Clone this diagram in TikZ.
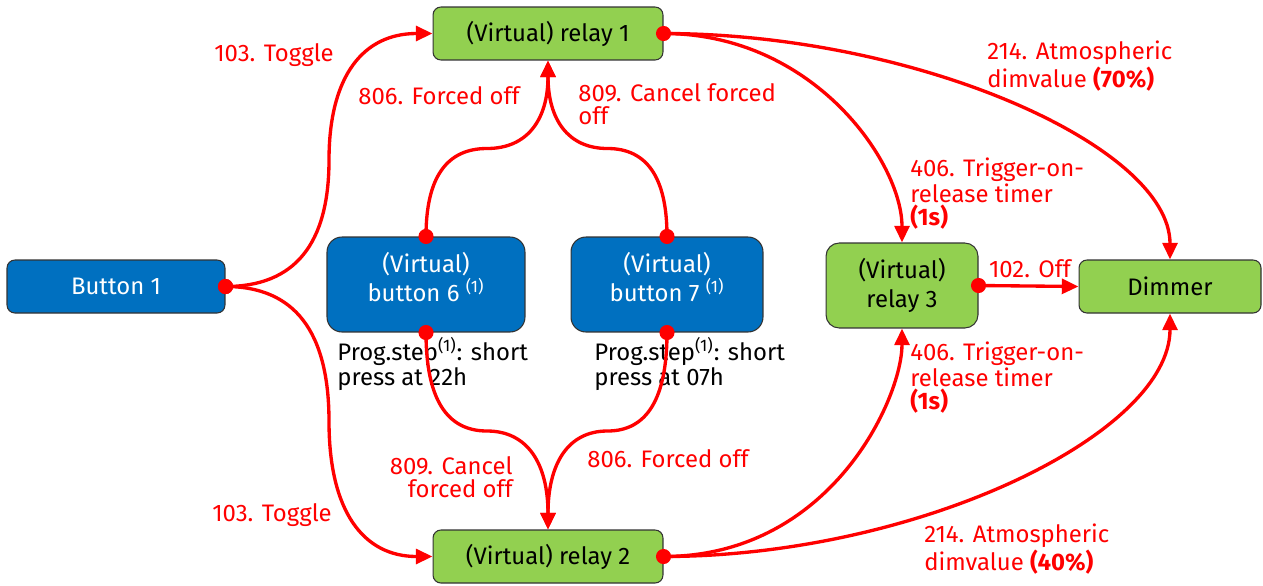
\documentclass[tikz,border=0pt]{standalone}
\usepackage{fontspec}
\setmainfont{Fira Sans}
\usetikzlibrary{calc}
\usetikzlibrary{arrows.meta}

\definecolor{btnblue}{HTML}{0070C0}
\definecolor{relgreen}{HTML}{92D050}
\definecolor{edgegray}{HTML}{333333}

\tikzset{
  box/.style={draw=edgegray, line width=0.6pt, rounded corners=4.5pt, inner sep=0pt,
    align=center, font=\fontsize{13.6}{16.4}\selectfont},
  button/.style={box, fill=btnblue, text=white},
  relay/.style={box, fill=relgreen, text=black},
  link/.style={red, line width=1.9pt, -{Triangle[length=9.5pt,width=8.5pt]}},
  lbl/.style={red, inner sep=0pt, font=\fontsize{13.6}{13.4}\selectfont},
  note/.style={inner sep=0pt, align=left, font=\fontsize{13.6}{14.2}\selectfont}
}

% curved link, horizontal at both ends, through the midpoint
\newcommand{\hlink}[2]{%
  \coordinate (m) at ($(#1)!.5!(#2)$);
  \draw[link] (#1) .. controls ($(#1)!.667!(m |- #1)$) and ($(m)!.667!(m |- #1)$) .. (m)
    .. controls ($(m)!.667!(m |- #2)$) and ($(#2)!.667!(m |- #2)$) .. (#2);
  \fill[red] (#1) circle [radius=4.3pt];
}
% curved link, vertical at both ends, through the midpoint
\newcommand{\vlink}[2]{%
  \coordinate (m) at ($(#1)!.5!(#2)$);
  \draw[link] (#1) .. controls ($(#1)!.667!(#1 |- m)$) and ($(m)!.667!(#1 |- m)$) .. (m)
    .. controls ($(m)!.667!(#2 |- m)$) and ($(#2)!.667!(#2 |- m)$) .. (#2);
  \fill[red] (#1) circle [radius=4.3pt];
}

\begin{document}
\begin{tikzpicture}[x=0.02cm, y=-0.02cm]
  \useasboundingbox (0,0) rectangle (1263,585);

  % buttons
  \node[button, minimum width=4.36cm, minimum height=1.06cm] (b1) at (116,286.5) {Button 1};
  \node[button, rounded corners=8.5pt, minimum width=3.96cm, minimum height=1.9cm]
    (b6) at (426,284.5) {(Virtual)\\button 6 \textsuperscript{(1)}\rule[-8.5pt]{0pt}{8.5pt}};
  \node[button, rounded corners=8.5pt, minimum width=3.84cm, minimum height=1.9cm]
    (b7) at (667,284.5) {(Virtual)\\button 7 \textsuperscript{(1)}\rule[-8.5pt]{0pt}{8.5pt}};

  % relays and dimmer
  \node[relay, minimum width=4.6cm, minimum height=1.06cm] (r1) at (548,33.5) {(Virtual) relay 1};
  \node[relay, minimum width=4.6cm, minimum height=1.06cm] (r2) at (548,556.5) {(Virtual) relay 2};
  \node[relay, rounded corners=7.5pt, minimum width=3.04cm, minimum height=1.7cm]
    (r3) at (902,285.5) {(Virtual)\\relay 3};
  \node[relay, minimum width=3.64cm, minimum height=1.06cm] (dim) at (1170,286.5) {Dimmer};

  % labels
  \node[lbl] (l1) at (274,55) {103. Toggle};
  \node[lbl] (l2) at (272,515) {103. Toggle};
  \node[lbl] (l3) at (439,96) {806. Forced off};
  \node[lbl, align=left, anchor=west] (l4) at (578,104) {809. Cancel forced\\off};
  \node[lbl, align=right, anchor=east] (l5) at (513,477) {809. Cancel\\forced off};
  \node[lbl] (l6) at (668,459) {806. Forced off};
  \node[lbl, align=left, anchor=west] (l7) at (910,194) {406. Trigger-on-\\release timer\\\textbf{(1s)}};
  \node[lbl, align=left, anchor=west] (l8) at (910,378) {406. Trigger-on-\\release timer\\\textbf{(1s)}};
  \node[lbl, align=left, anchor=west] (l9) at (987,66) {214. Atmospheric\\dimvalue \textbf{(70\%)}};
  \node[lbl, align=left, anchor=west] (l10) at (924,549) {214. Atmospheric\\dimvalue \textbf{(40\%)}};
  \node[lbl] (l11) at (1030,269) {102. Off};
  \node[note, anchor=west] (n6) at (337,364) {Prog.step\textsuperscript{(1)}: short\\press at 22h};
  \node[note, anchor=west] (n7) at (594,364) {Prog.step\textsuperscript{(1)}: short\\press at 07h};

  % links
  \hlink{b1.east}{r1.west}
  \hlink{b1.east}{r2.west}
  \vlink{b6.north}{r1.south}
  \vlink{b7.north}{r1.south}
  \vlink{b6.south}{r2.north}
  \vlink{b7.south}{r2.north}
  \draw[link] (r1.east) .. controls +(150,0) and +(0,-80) .. (r3.north);
  \draw[link] (r2.east) .. controls +(167,0) and +(0,70) .. (r3.south);
  \draw[link] (r1.east) .. controls +(253,0) and +(0,-113) .. (dim.north);
  \draw[link] (r2.east) .. controls +(253,0) and +(0,121) .. (dim.south);
  \draw[link] (r3.east) -- (dim.west);
  \fill[red] (r1.east) circle [radius=4.3pt];
  \fill[red] (r2.east) circle [radius=4.3pt];
  \fill[red] (r3.east) circle [radius=4.3pt];
\end{tikzpicture}
\end{document}
